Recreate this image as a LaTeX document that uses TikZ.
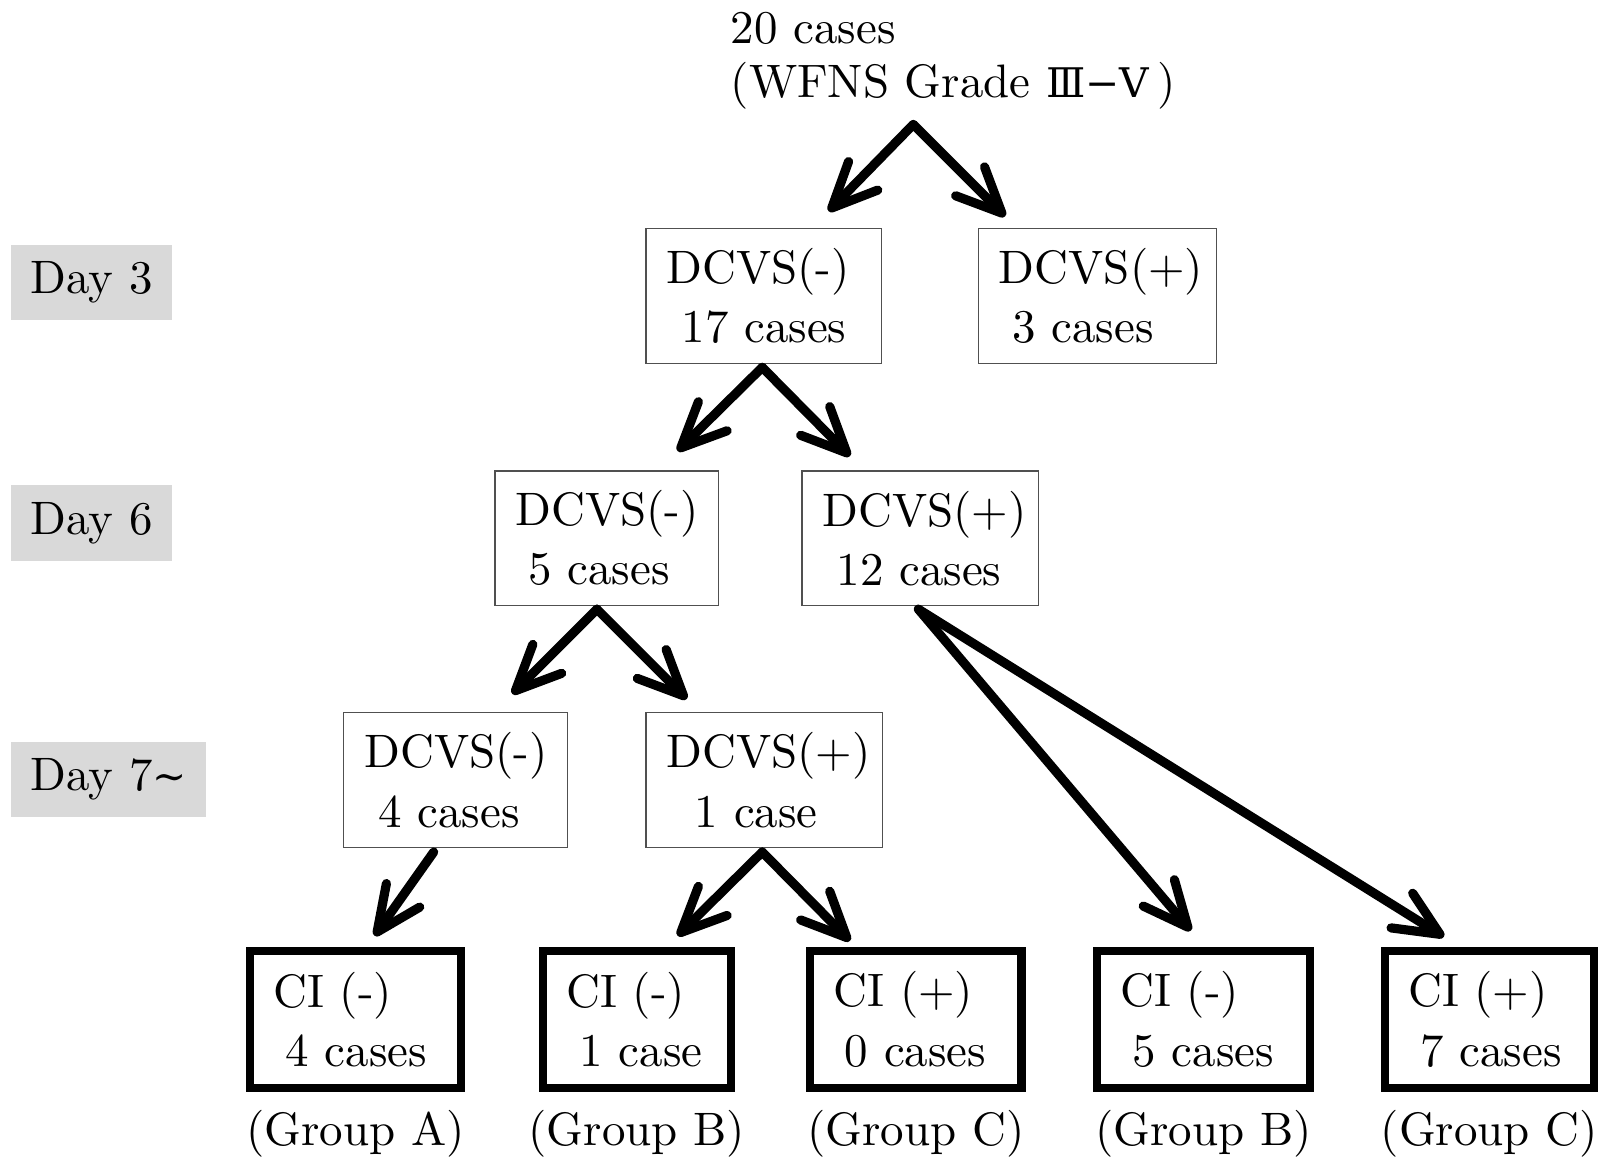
\documentclass[tikz,border=0pt]{standalone}
\usepackage{fontspec}
\setmainfont{lmroman10-regular}[Extension=.otf]
\newfontfamily\romnum{DejaVu Serif}
\usetikzlibrary{arrows.meta, positioning}
\definecolor{daygray}{HTML}{D9D9D9}
\definecolor{boxline}{HTML}{505050}
\tikzset{>={Straight Barb[length=44pt,width=40pt,round]}}
\exhyphenpenalty=10000
\hbadness=10000
\hfuzz=100pt

\begin{document}
\begin{tikzpicture}[x=1pt, y=-1pt,
  font=\fontsize{46}{58}\selectfont,
  day/.style={fill=daygray, anchor=west, inner xsep=19pt, minimum height=74pt},
  dcvs/.style={draw=boxline, line width=1.2pt, align=left, inner xsep=20pt, text width=#1, minimum height=132pt},
  ci/.style={draw, line width=8pt, align=left, inner xsep=23pt, text width=#1, minimum height=134pt},
  grp/.style={inner sep=0pt},
  flow/.style={->, line width=9pt, line cap=round, line join=round}]
\useasboundingbox (0,0) rectangle (1568,1136);

\node[day] (day3) at (11,277) {Day 3};
\node[day] (day6) at (11,512.5) {Day 6};
\node[day] (day7) at (11,764) {Day 7{\romnum\fontsize{40}{40}\selectfont ∼}};

\node[inner sep=0pt, align=left, anchor=north west, font=\fontsize{46}{53}\selectfont] (root) at (716,12)
  {20 cases\\(WFNS Grade {\romnum\fontsize{40}{40}\selectfont Ⅲ−Ⅴ}\,)};

\node[dcvs=191pt] (d3n) at (748.5,290) {DCVS(-)\\\hspace*{15pt}17 cases};
\node[dcvs=193pt] (d3p) at (1075.5,290) {DCVS(+)\\\hspace*{13pt}3 cases};
\node[dcvs=179pt] (d6n) at (594.5,527.5) {DCVS(-)\\\hspace*{13pt}5 cases};
\node[dcvs=192pt] (d6p) at (902,527.5) {DCVS(+)\\\hspace*{14pt}12 cases};
\node[dcvs=179pt] (d7n) at (446.5,764.5) {DCVS(-)\\\hspace*{14pt}4 cases};
\node[dcvs=192pt] (d7p) at (749,764.5) {DCVS(+)\\\hspace*{28pt}1 case};

\node[ci=161pt] (ciA) at (348.5,999) {CI (-)\\\hspace*{12pt}4 cases};
\node[ci=138pt] (ciB) at (624,999) {CI (-)\\\hspace*{13pt}1 case};
\node[ci=161pt] (ciC) at (897.5,999) {CI (+)\\\hspace*{11pt}0 cases};
\node[ci=163pt] (ciD) at (1179.5,999) {CI (-)\\\hspace*{12pt}5 cases};
\node[ci=159pt] (ciE) at (1459.5,999) {CI (+)\\\hspace*{12pt}7 cases};

\node[grp, below=18pt of ciA] (grpA) {(Group A)};
\node[grp, below=18pt of ciB] (grpB) {(Group B)};
\node[grp, below=18pt of ciC] (grpC) {(Group C)};
\node[grp, below=18pt of ciD] (grpD) {(Group B)};
\node[grp, below=18pt of ciE] (grpE) {(Group C)};

\coordinate (s0) at (895,122);
\coordinate (t0n) at (812,207);
\coordinate (t0p) at (985,212);
\coordinate (s3) at (747,360);
\coordinate (t3n) at (664,442);
\coordinate (t3p) at (833,447);
\coordinate (s6n) at (585,597);
\coordinate (t6nn) at (502,680);
\coordinate (t6np) at (673,685);
\coordinate (s6p) at (900,597);
\coordinate (t6pn) at (1167,912);
\coordinate (t6pp) at (1415,918);
\coordinate (s7n) at (425,835);
\coordinate (t7n) at (367,917);
\coordinate (s7p) at (747,835);
\coordinate (t7pn) at (664,917);
\coordinate (t7pp) at (833,922);

\draw[flow] (s0) -- (t0n);
\draw[flow] (s0) -- (t0p);
\draw[flow] (s3) -- (t3n);
\draw[flow] (s3) -- (t3p);
\draw[flow] (s6n) -- (t6nn);
\draw[flow] (s6n) -- (t6np);
\draw[flow] (s6p) -- (t6pn);
\draw[flow] (s6p) -- (t6pp);
\draw[flow] (s7n) -- (t7n);
\draw[flow] (s7p) -- (t7pn);
\draw[flow] (s7p) -- (t7pp);
\end{tikzpicture}
\end{document}
